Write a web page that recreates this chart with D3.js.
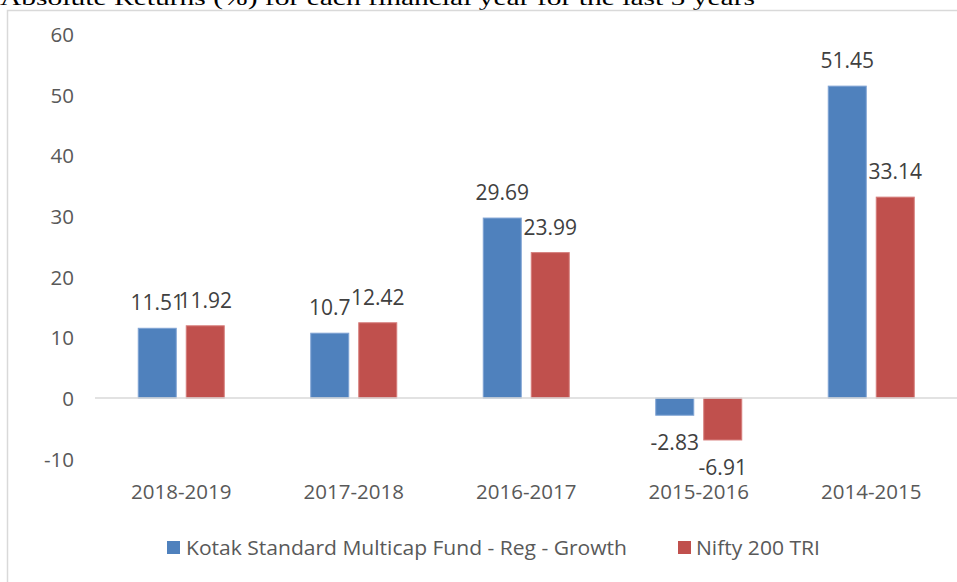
<!DOCTYPE html>
<html><head><meta charset="utf-8">
<script src="https://cdn.jsdelivr.net/npm/d3@7/dist/d3.min.js"></script>
<style>body{margin:0;background:#fff;overflow:hidden}svg{display:block}</style>
</head><body>
<svg id="c" width="957" height="582"></svg>
<script>
const title = "Absolute Returns (%) for each financial year for the last 5 years";
const categories = ["2018-2019","2017-2018","2016-2017","2015-2016","2014-2015"];
const seriesNames = ["Kotak Standard Multicap Fund - Reg - Growth","Nifty 200 TRI"];
const fundValues = [11.51, 10.7, 29.69, -2.83, 51.45];
const indexValues = [11.92, 12.42, 23.99, -6.91, 33.14];
const yTicks = [-10, 0, 10, 20, 30, 40, 50, 60];
const colors = ["#4F81BD", "#C0504D"];

const svg = d3.select("#c");
const font = "'Open Sans', 'Liberation Sans', sans-serif";
const textColor = "#595959";

// clipped title
svg.append("text").attr("x", 0).attr("y", 5)
  .attr("font-family", "'Liberation Serif', 'Times New Roman', serif")
  .attr("font-size", 21).attr("fill", "#000")
  .attr("textLength", 755).attr("lengthAdjust", "spacingAndGlyphs")
  .text(title);

// chart frame
svg.append("path").attr("d", "M7.5,582 V10.5 H957")
  .attr("fill", "none").attr("stroke", "#d9d9d9").attr("stroke-width", 1.5);

const x0 = d3.scaleBand().domain(categories).range([95, 957.5]).paddingInner(0).paddingOuter(0);
const y = d3.scaleLinear().domain([-10, 60]).range([458.7, 34.3]);

// y tick labels
const yAxis = d3.axisLeft(y).tickValues(yTicks).tickFormat(d => String(d)).tickSize(0).tickPadding(0);
const gy = svg.append("g").attr("transform", "translate(74,0)").call(yAxis);
gy.select(".domain").remove();
gy.selectAll("text").attr("font-family", font).attr("font-size", 20.5).attr("fill", textColor).attr("dy", "0.36em");

const barW = 38, gap = 10;
const data = categories.map((c, i) => ({c, vals: [fundValues[i], indexValues[i]]}));

const groups = svg.append("g").selectAll("g").data(data).join("g")
  .attr("transform", d => `translate(${x0(d.c) + x0.bandwidth() / 2},0)`);

const bx = j => j === 0 ? -gap / 2 - barW : gap / 2;

groups.selectAll("rect").data(d => d.vals.map((v, j) => ({v, j}))).join("rect")
  .attr("x", d => bx(d.j))
  .attr("width", barW)
  .attr("y", d => Math.min(y(d.v), y(0)))
  .attr("height", d => Math.abs(y(d.v) - y(0)))
  .attr("fill", d => colors[d.j])
  .attr("stroke", d => d.j === 0 ? "#7FA3D3" : "#D67D7B").attr("stroke-width", 1);

// zero line
svg.append("line").attr("x1", 95).attr("x2", 957).attr("y1", y(0)).attr("y2", y(0))
  .attr("stroke", "#d9d9d9").attr("stroke-width", 1.5);

// value labels
groups.selectAll("text.v").data(d => d.vals.map((v, j) => ({v, j}))).join("text")
  .attr("class", "v")
  .attr("x", d => bx(d.j) + barW / 2)
  .attr("y", d => d.v >= 0 ? y(d.v) - 18 : y(d.v) + 35)
  .attr("text-anchor", "middle")
  .attr("font-family", font).attr("font-size", 21).attr("fill", "#404040")
  .text(d => String(d.v));

// category labels
const xAxis = d3.axisBottom(x0).tickSize(0).tickPadding(0);
const gx = svg.append("g").attr("transform", "translate(0,499)").call(xAxis);
gx.select(".domain").remove();
gx.selectAll("text").attr("font-family", font).attr("font-size", 20.5).attr("fill", textColor).attr("dy", 0);

// legend
const legend = [
  {name: seriesNames[0], sx: 167, tx: 186, tw: 441},
  {name: seriesNames[1], sx: 678, tx: 696, tw: 124}
];
legend.forEach((l, i) => {
  svg.append("rect").attr("x", l.sx).attr("y", 541).attr("width", 13).attr("height", 13).attr("fill", colors[i]);
  svg.append("text").attr("x", l.tx).attr("y", 555)
    .attr("font-family", font).attr("font-size", 20).attr("fill", textColor)
    .attr("textLength", l.tw).attr("lengthAdjust", "spacingAndGlyphs")
    .text(l.name);
});
</script>
</body></html>
